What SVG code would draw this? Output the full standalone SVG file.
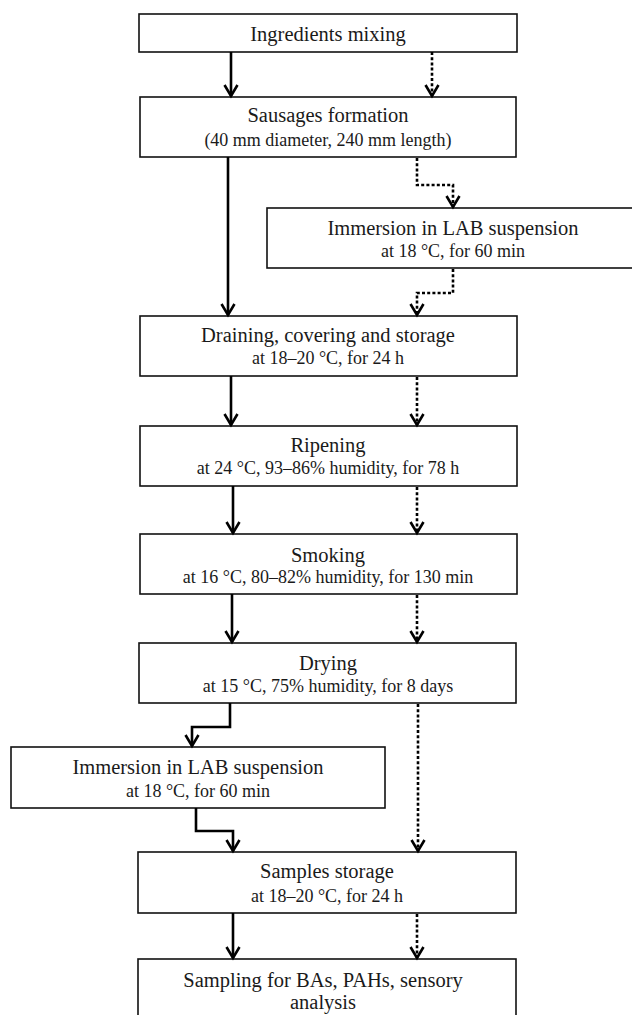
<svg xmlns="http://www.w3.org/2000/svg" width="632" height="1015" viewBox="0 0 632 1015">
<style>
.box{fill:#fff;stroke:#111;stroke-width:1.6}
.t1{font-family:"Liberation Serif","Times New Roman",serif;font-size:20.5px;fill:#1a1a1a;text-anchor:middle}
.t2{font-family:"Liberation Serif","Times New Roman",serif;font-size:18px;fill:#1a1a1a;text-anchor:middle}
.sol{fill:none;stroke:#000;stroke-width:2.6;marker-end:url(#ah)}
.dot{fill:none;stroke:#000;stroke-width:2.6;stroke-dasharray:3 2.2;marker-end:url(#ah)}
</style>
<defs>
<marker id="ah" markerUnits="userSpaceOnUse" markerWidth="20" markerHeight="20" refX="0" refY="0" viewBox="-14 -10 18 20" orient="auto" overflow="visible">
<path d="M-11,-6.5 L0,0 L-11,6.5" fill="none" stroke="#000" stroke-width="2.6"/>
</marker>
</defs>
<rect width="632" height="1015" fill="#fff"/>
<g id="n1"><rect class="box" x="139" y="14" width="378" height="38"/><text class="t1" x="328" y="41">Ingredients mixing</text></g>
<g id="n2"><rect class="box" x="140" y="97" width="376" height="60"/><text class="t1" x="328" y="122">Sausages formation</text><text class="t2" x="328" y="146">(40 mm diameter, 240 mm length)</text></g>
<g id="n3"><rect class="box" x="267" y="208" width="372" height="60"/><text class="t1" x="453" y="235">Immersion in LAB suspension</text><text class="t2" x="453" y="257">at 18 °C, for 60 min</text></g>
<g id="n4"><rect class="box" x="140" y="316" width="377" height="60"/><text class="t1" x="328" y="342">Draining, covering and storage</text><text class="t2" x="328" y="364">at 18–20 °C, for 24 h</text></g>
<g id="n5"><rect class="box" x="140" y="426" width="377" height="60"/><text class="t1" x="328" y="452">Ripening</text><text class="t2" x="328" y="474">at 24 °C, 93–86% humidity, for 78 h</text></g>
<g id="n6"><rect class="box" x="140" y="534" width="377" height="60"/><text class="t1" x="328" y="562">Smoking</text><text class="t2" x="328" y="583">at 16 °C, 80–82% humidity, for 130 min</text></g>
<g id="n7"><rect class="box" x="139" y="643" width="377" height="60"/><text class="t1" x="328" y="670">Drying</text><text class="t2" x="328" y="692">at 15 °C, 75% humidity, for 8 days</text></g>
<g id="n8"><rect class="box" x="11" y="747" width="374" height="61"/><text class="t1" x="198" y="774">Immersion in LAB suspension</text><text class="t2" x="198" y="797">at 18 °C, for 60 min</text></g>
<g id="n9"><rect class="box" x="138" y="852" width="378" height="61"/><text class="t1" x="327" y="878">Samples storage</text><text class="t2" x="327" y="902">at 18–20 °C, for 24 h</text></g>
<g id="n10"><rect class="box" x="138" y="959" width="378" height="70"/><text class="t1" x="323" y="987">Sampling for BAs, PAHs, sensory</text><text class="t1" x="323" y="1009">analysis</text></g>
<g id="connectors">
<path class="sol" d="M231,52 V96"/>
<path class="dot" d="M432,52 V96"/>
<path class="sol" d="M228,157 V315"/>
<path class="dot" d="M417,158 V185 H453 V207"/>
<path class="dot" d="M453,269 V293 H417 V315"/>
<path class="sol" d="M231,376 V425"/>
<path class="dot" d="M417,377 V425"/>
<path class="sol" d="M233,486 V533"/>
<path class="dot" d="M417,487 V533"/>
<path class="sol" d="M232,594 V642"/>
<path class="dot" d="M417,595 V642"/>
<path class="sol" d="M230,703 V727 H192 V746"/>
<path class="dot" d="M418,704 V851"/>
<path class="sol" d="M196,808 V831 H233 V851"/>
<path class="sol" d="M233,913 V958"/>
<path class="dot" d="M417,914 V958"/>
</g>
</svg>
